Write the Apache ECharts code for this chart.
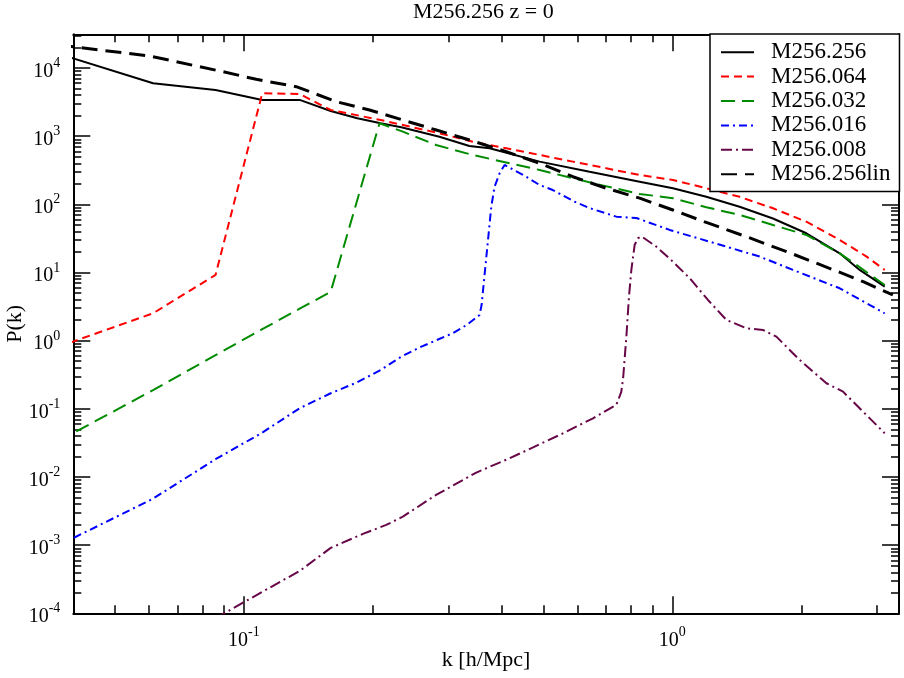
<!DOCTYPE html>
<html>
<head>
<meta charset="utf-8">
<title>M256.256 z = 0</title>
<script src="https://cdn.jsdelivr.net/npm/echarts@6/dist/echarts.min.js"></script>
<style>
  html, body { margin: 0; padding: 0; background: #fff; }
  #diagram { width: 904px; height: 678px; }
</style>
</head>
<body>
<div id="diagram"></div>
<script>
// axis ranges and ticks
var xMin = 0.04, xMax = 3.38;
var yMin = 1e-4, yMax = 31200;
var minorMantissas = [2, 3, 4, 5, 6, 7, 8, 9];
var xDecades = [-2, -1, 0];
var yDecades = [-4, -3, -2, -1, 0, 1, 2, 3, 4];

// P(k), one k / P pair of arrays per run
var k256 = [0.0368, 0.0614, 0.0859, 0.1104, 0.135, 0.1595, 0.184, 0.2086, 0.233, 0.286, 0.336, 0.3746,
            0.49, 0.641, 0.839, 1.003, 1.2, 1.435, 1.717, 2.054, 2.458, 2.736, 3.13];
var p256 = [16300, 5970, 4750, 3400, 3400, 2340, 1830, 1545, 1350, 982, 718, 664,
            423, 301, 215, 172, 129, 92, 62, 37.6, 19.1, 10.9, 6.2];

var k064 = [0.0368, 0.0614, 0.0859, 0.1104, 0.135, 0.1595, 0.2086, 0.286, 0.3424, 0.4097, 0.49,
            0.586, 0.701, 0.839, 1.003, 1.2, 1.435, 1.717, 2.054, 2.458, 2.84, 3.13];
var p064 = [0.807, 2.52, 9.2, 4250, 4160, 2420, 1725, 1100, 830, 664, 530,
            423, 338, 269, 228, 172, 129, 87.5, 55.6, 30, 17.1, 10.9];

var k032 = [0.0368, 0.0614, 0.0859, 0.1104, 0.135, 0.1595, 0.2073, 0.235, 0.281, 0.342, 0.49,
            0.653, 0.839, 1.003, 1.2, 1.435, 1.717, 2.054, 2.458, 2.689, 3.13];
var p032 = [0.0333, 0.188, 0.612, 1.47, 2.94, 5.22, 1545, 1164, 741, 530, 319,
            204, 142, 123, 90.6, 69.8, 49.8, 35.5, 19.1, 12.9, 6.56];

var k016 = [0.0368, 0.0614, 0.0859, 0.1104, 0.135, 0.1595, 0.184, 0.2086, 0.233, 0.2577, 0.282,
            0.3068, 0.3313, 0.3549, 0.3588, 0.378, 0.3847, 0.3952, 0.406, 0.456, 0.49, 0.526,
            0.592, 0.641, 0.74, 0.824, 0.9856, 1.222, 1.599, 1.912, 2.458, 3.13];
var p016 = [0.00098, 0.00481, 0.0182, 0.0447, 0.102, 0.169, 0.245, 0.372, 0.582, 0.8, 1.02,
            1.28, 1.7, 2.38, 3.33, 92.2, 181.6, 285, 378, 254, 192, 162,
            109, 88, 65.9, 63.1, 42.1, 28.3, 17.1, 10.9, 5.86, 2.52];

var k008 = [0.0859, 0.1104, 0.135, 0.1595, 0.1896, 0.215, 0.235, 0.281, 0.3487, 0.417, 0.5456,
            0.653, 0.74, 0.76, 0.7677, 0.781, 0.792, 0.8023, 0.8166, 0.8311, 0.848, 0.9177,
            1.003, 1.098, 1.211, 1.337, 1.488, 1.627, 1.749, 1.982, 2.288, 2.502, 2.786, 3.13];
var p008 = [8.5e-5, 2.06e-4, 4.18e-4, 9.1e-4, 1.46e-3, 1.98e-3, 2.62e-3, 5.45e-3, 0.0116, 0.0188, 0.0413,
            0.0726, 0.1139, 0.1766, 0.2835, 1.13, 4.37, 10.9, 25.3, 31.8, 33.7, 23.9,
            14.4, 8.22, 3.95, 2.01, 1.52, 1.435, 1.144, 0.521, 0.237, 0.1785, 0.0908, 0.0438];

var kLin = [0.0368, 0.0603, 0.0893, 0.1069, 0.1325, 0.1643, 0.1965, 0.2349, 0.2812, 0.3364, 0.4097,
            0.49, 0.586, 0.701, 0.839, 1.003, 1.2, 1.516, 1.909, 2.444, 2.797, 3.27];
var pLin = [21800, 15000, 8830, 6820, 5320, 3210, 2420, 1726, 1231, 879, 592,
            400, 254, 172, 123, 82.6, 54.2, 32.1, 18.7, 10.2, 7.26, 4.68];

var serif = 'Liberation Serif';

function pairs(k, p) {
  return k.map(function (v, i) { return [v, p[i]]; });
}

// minor tick positions in log10 space, for the overlay value axes
function minorTicks(decades, lo, hi) {
  var out = [];
  decades.forEach(function (e) {
    minorMantissas.forEach(function (m) {
      var v = m * Math.pow(10, e);
      if (v > lo && v < hi) out.push(Math.log10(v));
    });
  });
  return out;
}

function powLabel(v) {
  var l = Math.log10(v), e = Math.round(l);
  if (Math.abs(l - e) > 1e-6) return '';
  return '{b|10}{s|' + e + '}';
}

var richLbl = {
  b: { fontFamily: serif, fontSize: 20, lineHeight: 30, color: '#000' },
  s: { fontFamily: serif, fontSize: 14, lineHeight: 14, verticalAlign: 'top', color: '#000' }
};

var axisLine = { show: true, onZero: false, lineStyle: { color: '#000', width: 2 } };
var noLine = { show: false, onZero: false };
var majorTick = { show: true, inside: true, length: 17, lineStyle: { color: '#000', width: 1.5 } };

function minorTick(vals) {
  return { show: true, inside: true, length: 8, customValues: vals, lineStyle: { color: '#000', width: 1.5 } };
}

var xMinor = minorTicks(xDecades, xMin, xMax);
var yMinor = minorTicks(yDecades, yMin, yMax);

function line(name, k, p, color, width, dash) {
  return {
    name: name, type: 'line', xAxisIndex: 0, yAxisIndex: 0,
    data: pairs(k, p), symbol: 'none', showSymbol: false,
    lineStyle: { color: color, width: width, type: dash },
    itemStyle: { color: color }
  };
}

var myChart = echarts.init(document.getElementById('diagram'));

var option = {
  animation: false,
  backgroundColor: '#fff',
  title: {
    text: 'M256.256 z = 0', left: 413, top: 1, padding: 0,
    textStyle: { fontFamily: serif, fontSize: 22, fontWeight: 'normal', color: '#000' }
  },
  legend: {
    orient: 'vertical', left: 710, top: 34, padding: [6, 9, 5, 10],
    itemGap: 0, itemWidth: 33, itemHeight: 14,
    itemStyle: { opacity: 0 },
    backgroundColor: '#fff', borderColor: '#000', borderWidth: 1.5, borderRadius: 0,
    textStyle: { fontFamily: serif, fontSize: 23, color: '#000', lineHeight: 24.4, padding: [0, 0, 0, 12] },
    data: ['M256.256', 'M256.064', 'M256.032', 'M256.016', 'M256.008', 'M256.256lin']
  },
  grid: { left: 73.3, right: 5, top: 34.3, bottom: 64.7, containLabel: false, outerBoundsMode: 'none' },
  xAxis: [
    {
      type: 'log', min: xMin, max: xMax, position: 'bottom',
      axisLine: axisLine, axisTick: majorTick, splitLine: { show: false },
      axisLabel: { formatter: powLabel, margin: 12, rich: richLbl, hideOverlap: false },
      name: 'k [h/Mpc]', nameLocation: 'middle', nameGap: 36, nameMoveOverlap: false,
      nameTextStyle: { fontFamily: serif, fontSize: 22, color: '#000' }
    },
    {
      type: 'value', min: Math.log10(xMin), max: Math.log10(xMax), position: 'bottom',
      axisLine: noLine, axisLabel: { show: false }, splitLine: { show: false },
      axisTick: minorTick(xMinor)
    },
    {
      type: 'log', min: xMin, max: xMax, position: 'top',
      axisLine: axisLine, axisTick: majorTick, splitLine: { show: false },
      axisLabel: { show: false }
    },
    {
      type: 'value', min: Math.log10(xMin), max: Math.log10(xMax), position: 'top',
      axisLine: noLine, axisLabel: { show: false }, splitLine: { show: false },
      axisTick: minorTick(xMinor)
    }
  ],
  yAxis: [
    {
      type: 'log', min: yMin, max: yMax, position: 'left',
      axisLine: axisLine, axisTick: majorTick, splitLine: { show: false },
      axisLabel: { formatter: powLabel, margin: 13, rich: richLbl, padding: [7, 0, 0, 0], hideOverlap: false },
      name: 'P(k)', nameLocation: 'middle', nameGap: 47, nameRotate: 90, nameMoveOverlap: false,
      nameTextStyle: { fontFamily: serif, fontSize: 22, color: '#000' }
    },
    {
      type: 'value', min: Math.log10(yMin), max: Math.log10(yMax), position: 'left',
      axisLine: noLine, axisLabel: { show: false }, splitLine: { show: false },
      axisTick: minorTick(yMinor)
    },
    {
      type: 'log', min: yMin, max: yMax, position: 'right',
      axisLine: axisLine, axisTick: majorTick, splitLine: { show: false },
      axisLabel: { show: false }
    },
    {
      type: 'value', min: Math.log10(yMin), max: Math.log10(yMax), position: 'right',
      axisLine: noLine, axisLabel: { show: false }, splitLine: { show: false },
      axisTick: minorTick(yMinor)
    }
  ],
  series: [
    line('M256.256', k256, p256, '#000000', 2, 'solid'),
    line('M256.064', k064, p064, '#ff0000', 2, [8, 5]),
    line('M256.032', k032, p032, '#008b00', 2, [14, 7]),
    line('M256.016', k016, p016, '#0000ff', 2, [8, 4, 2, 4]),
    line('M256.008', k008, p008, '#670748', 2, [11, 4, 2, 4]),
    line('M256.256lin', kLin, pLin, '#000000', 3, [16, 8])
  ]
};

myChart.setOption(option);
</script>
</body>
</html>
